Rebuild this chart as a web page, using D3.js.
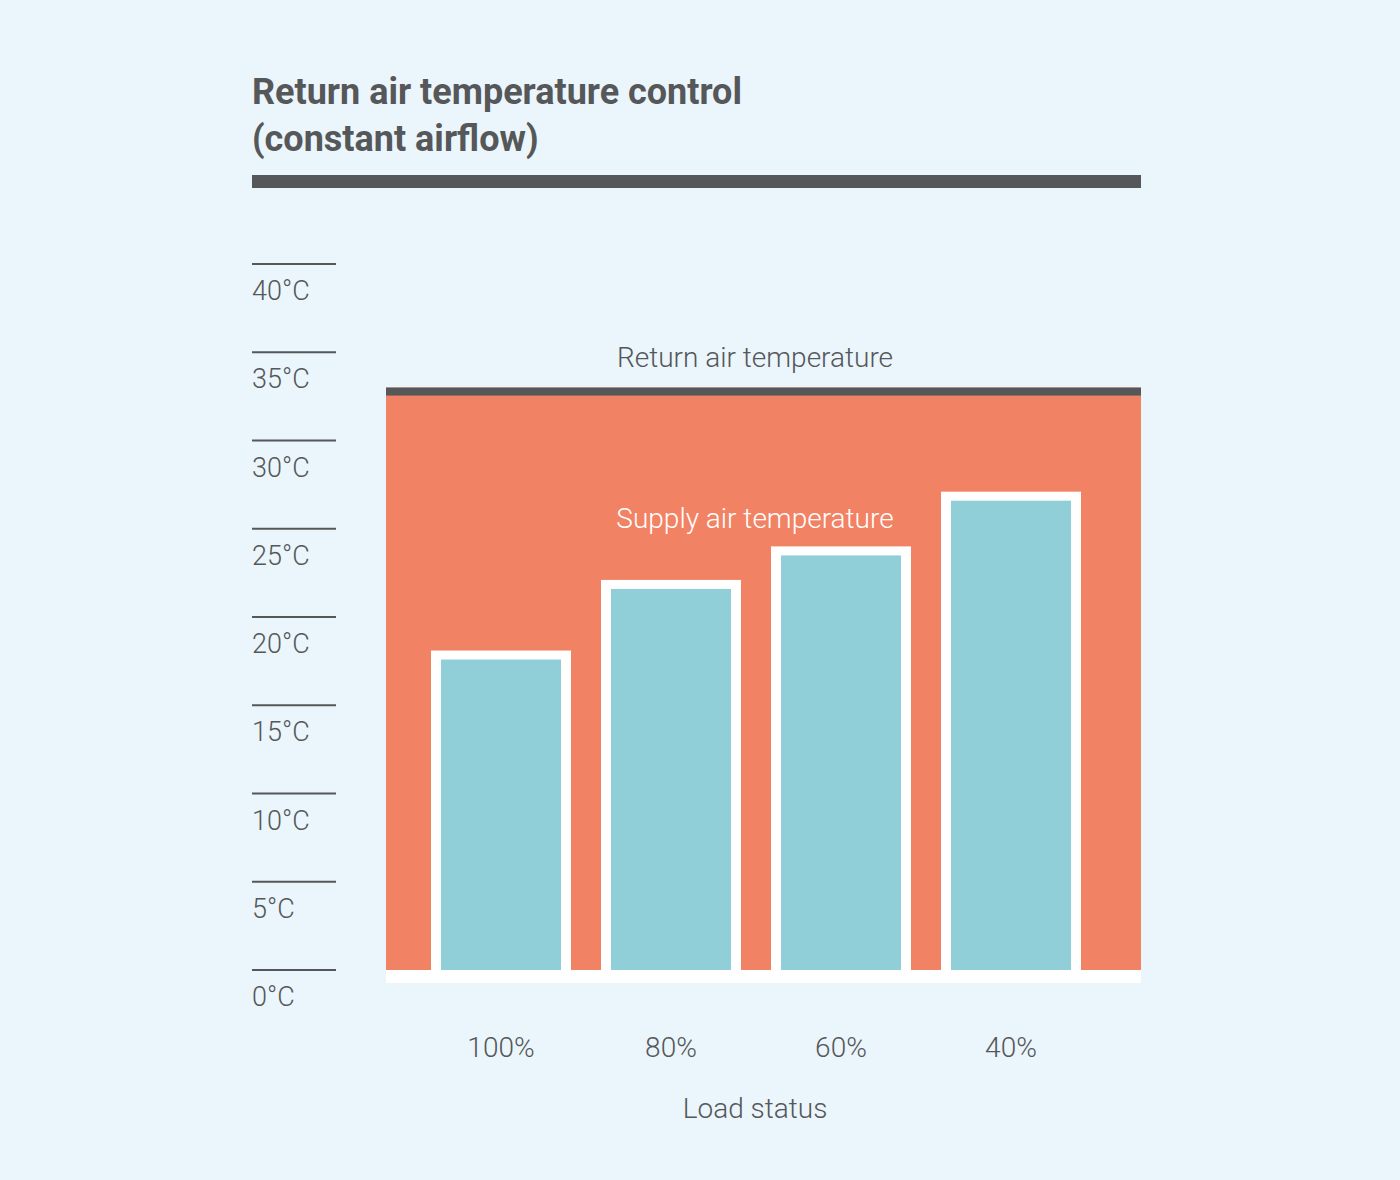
<!DOCTYPE html>
<html><head><meta charset="utf-8">
<script src="https://cdn.jsdelivr.net/npm/d3@7/dist/d3.min.js"></script>
<style>body{margin:0;background:#eaf5fc;}svg{display:block}</style>
</head><body><svg id="c" width="1400" height="1180"></svg>
<script>
const categories = ["100%", "80%", "60%", "40%"];
const supplyValues = [18.1, 22.1, 24.0, 27.1];
const returnValue = 33;
const yTicks = [0, 5, 10, 15, 20, 25, 30, 35, 40];
const tickLabels = ["0°C","5°C","10°C","15°C","20°C","25°C","30°C","35°C","40°C"];

const svg = d3.select("#c");
const dark = "#555759", red = "#f28264", teal = "#90cfd8";
const font = "Roboto, 'Open Sans', sans-serif";

const y = d3.scaleLinear().domain([0, 40]).range([970, 264]);
const x = d3.scaleBand().domain(categories).range([416, 1096]).paddingInner(30/170).paddingOuter(15/170);

svg.append("rect").attr("width",1400).attr("height",1180).attr("fill","#eaf5fc");

// title
svg.append("text").attr("x",252).attr("y",104).attr("font-family",font).attr("font-weight",700)
  .attr("font-size",36).attr("fill",dark).text("Return air temperature control");
svg.append("text").attr("x",252).attr("y",151).attr("font-family",font).attr("font-weight",700)
  .attr("font-size",36).attr("fill",dark).text("(constant airflow)");
svg.append("rect").attr("x",252).attr("y",175).attr("width",889).attr("height",13).attr("fill",dark);

// y axis ticks
const ty = svg.append("g");
yTicks.forEach((t,i)=>{
  ty.append("line").attr("x1",252).attr("x2",336).attr("y1",y(t)).attr("y2",y(t))
    .attr("stroke",dark).attr("stroke-width",2);
  ty.append("text").attr("x",252).attr("y",y(t)+36).attr("font-family",font).attr("font-weight",300)
    .attr("font-size",27).attr("fill",dark).text(tickLabels[i]);
});

// return area
svg.append("rect").attr("x",386).attr("width",755).attr("y",y(returnValue)).attr("height",y(0)-y(returnValue)).attr("fill",red);
svg.append("rect").attr("x",386).attr("width",755).attr("y",y(returnValue)).attr("height",8).attr("fill",dark);
svg.append("rect").attr("x",386).attr("width",755).attr("y",y(0)).attr("height",13).attr("fill","#fff");

// bars
svg.selectAll("rect.outer").data(supplyValues).join("rect").attr("class","outer")
  .attr("x",(d,i)=>x(categories[i])).attr("width",x.bandwidth())
  .attr("y",d=>y(d)).attr("height",d=>y(0)-y(d)).attr("fill","#fff");
svg.selectAll("rect.inner").data(supplyValues).join("rect").attr("class","inner")
  .attr("x",(d,i)=>x(categories[i])+10).attr("width",x.bandwidth()-20)
  .attr("y",d=>y(d)+9).attr("height",d=>y(0)-y(d)-9).attr("fill",teal);

svg.append("text").attr("x",755).attr("y",367).attr("text-anchor","middle").attr("font-family",font)
  .attr("font-weight",300).attr("font-size",28).attr("fill",dark).text("Return air temperature");
svg.append("text").attr("x",755).attr("y",528).attr("text-anchor","middle").attr("font-family",font)
  .attr("font-weight",300).attr("font-size",28).attr("fill","#fff").text("Supply air temperature");

categories.forEach(c=>{
  svg.append("text").attr("x",x(c)+x.bandwidth()/2).attr("y",1057).attr("text-anchor","middle")
    .attr("font-family",font).attr("font-weight",300).attr("font-size",28).attr("fill",dark).text(c);
});
svg.append("text").attr("x",755).attr("y",1118).attr("text-anchor","middle").attr("font-family",font)
  .attr("font-weight",300).attr("font-size",28).attr("fill",dark).text("Load status");
</script></body></html>
